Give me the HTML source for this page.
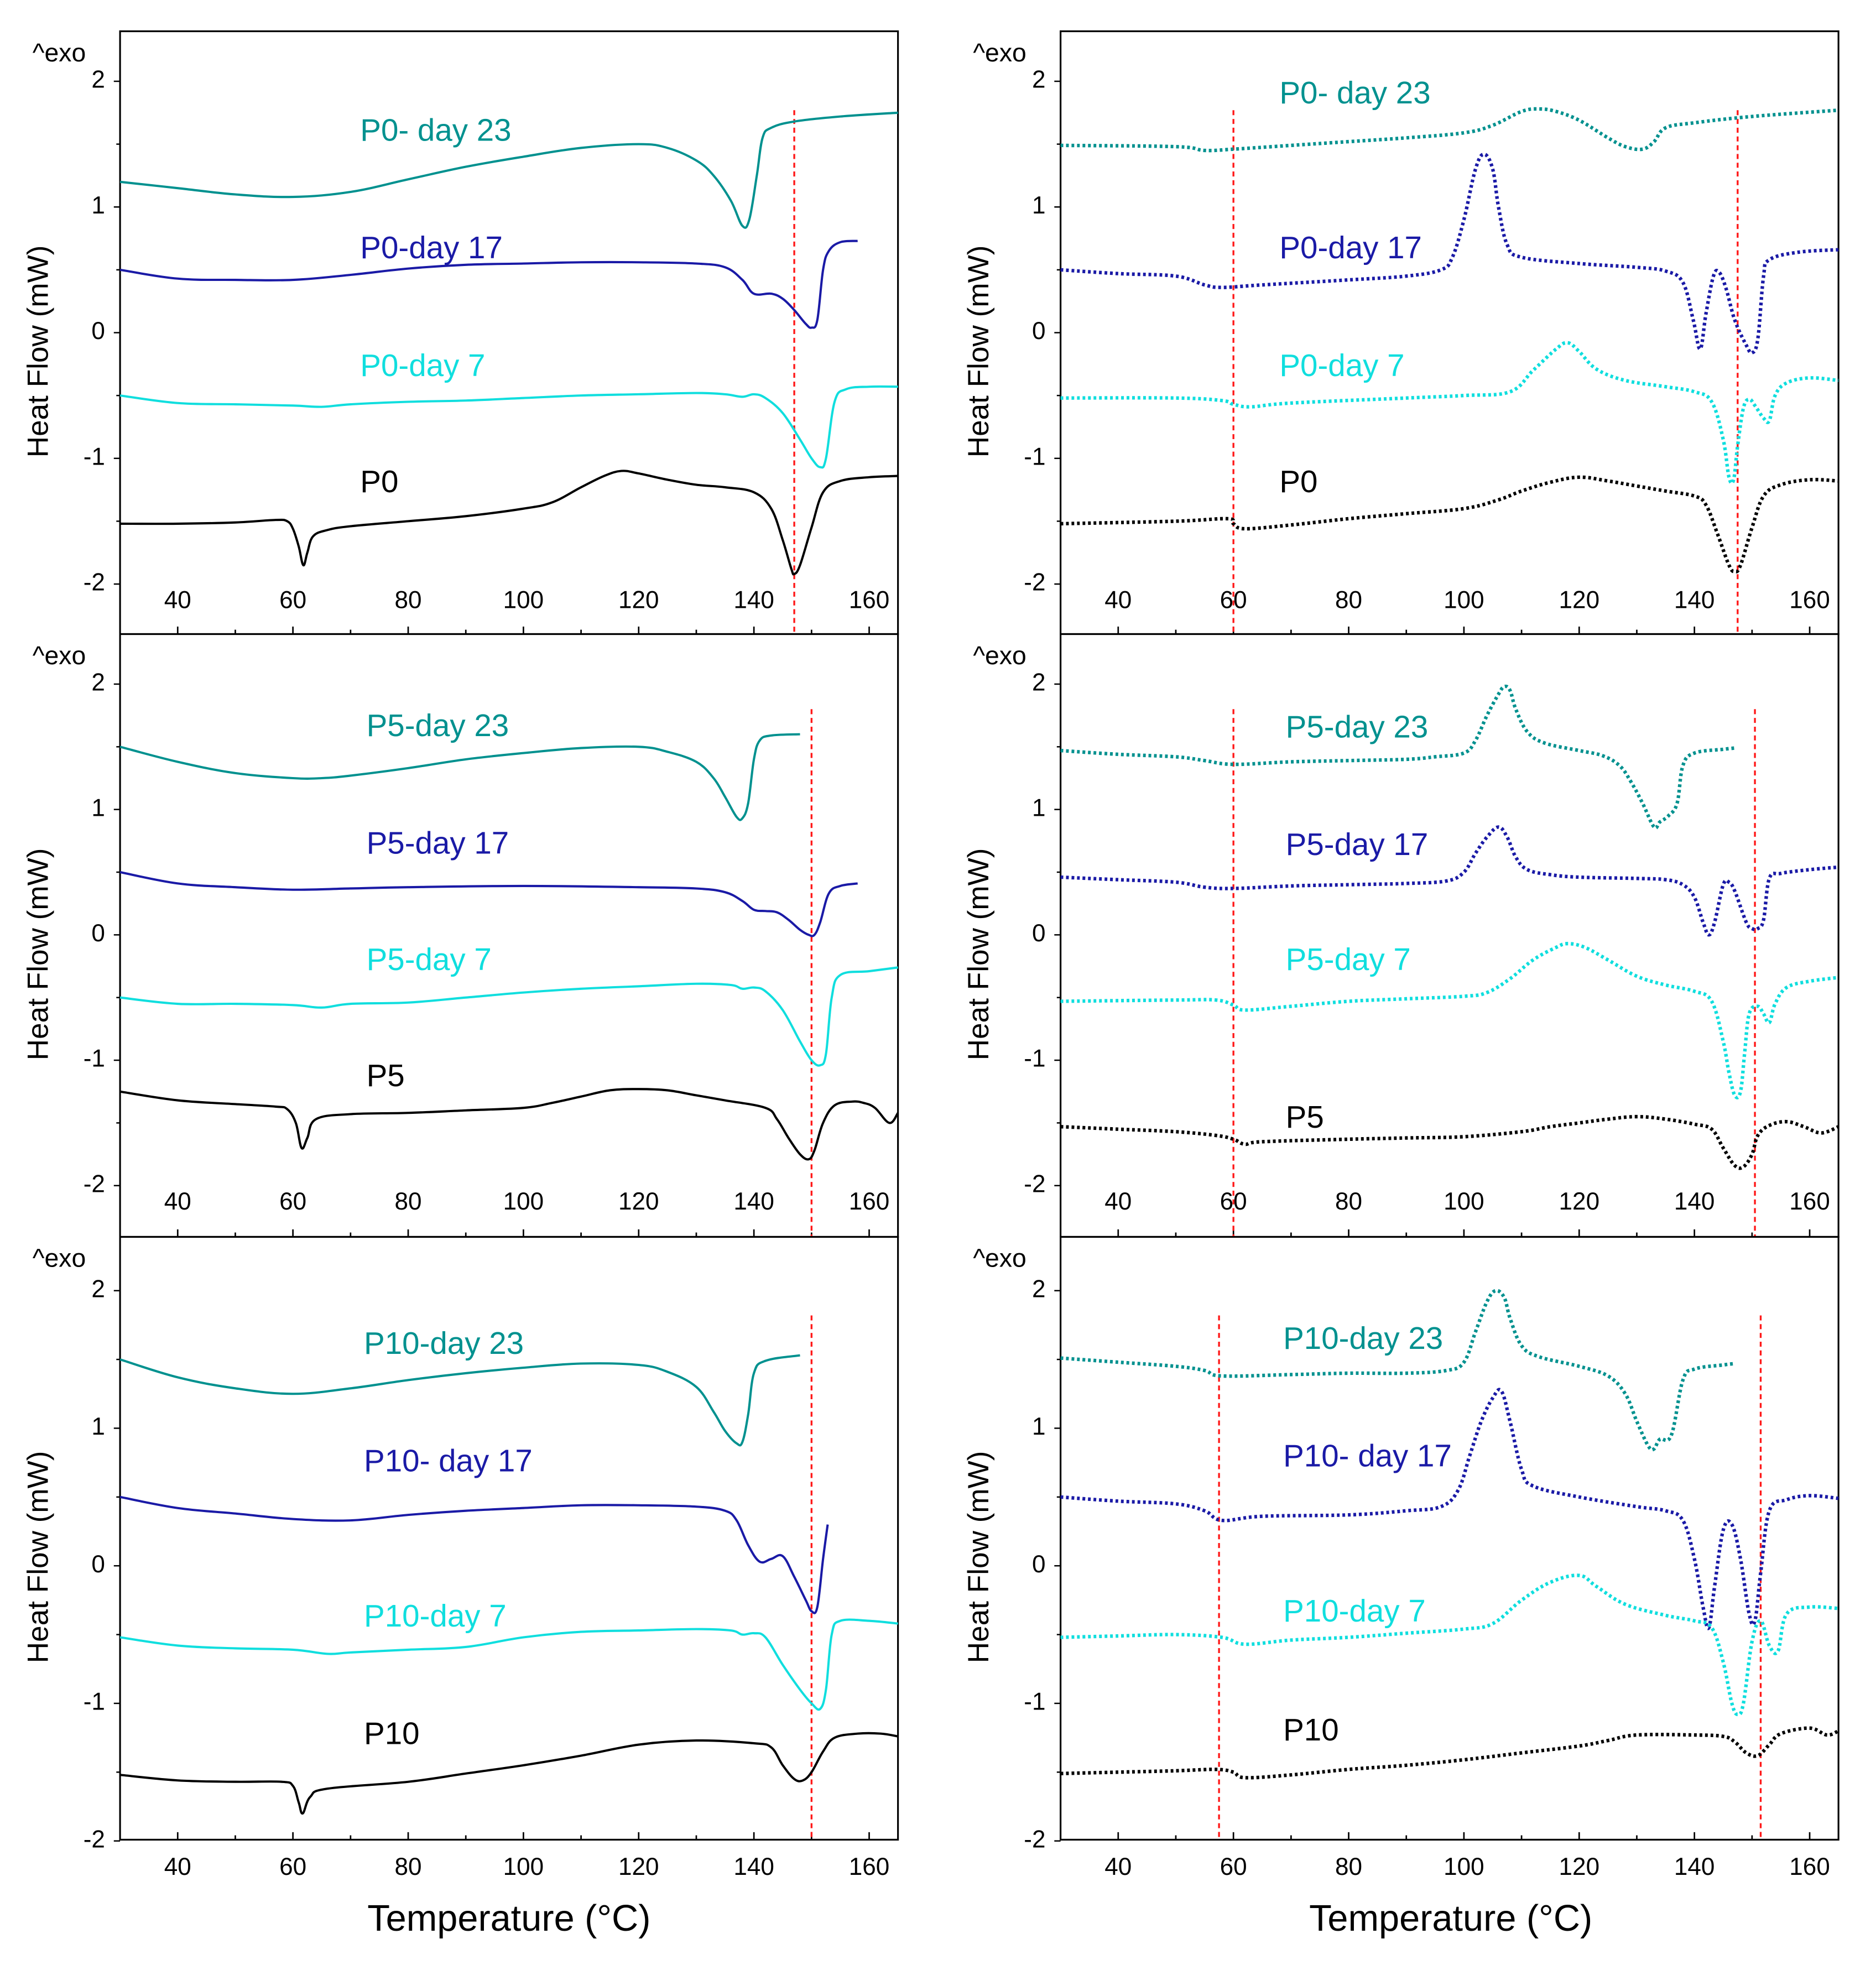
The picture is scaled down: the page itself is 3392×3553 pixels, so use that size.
<!DOCTYPE html>
<html><head><meta charset="utf-8"><style>
html,body{margin:0;padding:0;background:#fff}
svg{display:block}
text{font-family:"Liberation Sans",Arial,sans-serif}
</style></head><body>
<svg id="fig" xmlns="http://www.w3.org/2000/svg" width="3392" height="3553" viewBox="0 0 1500 1571.2"></svg>
<script>
// ===== Data (Temperature °C, Heat Flow mW) =====
const xTicks = [40,60,80,100,120,140,160];
const yTicks = [-2,-1,0,1,2];

// Row 1 left (solid)
const P0d23 = [[30,1.20],[40,1.15],[50,1.10],[60,1.08],[70,1.12],[80,1.22],[90,1.32],[100,1.40],[110,1.47],[120,1.50],[125,1.47],[130,1.37],[133,1.25],[136,1.05],[138,0.85],[139.2,0.90],[140.5,1.25],[141.5,1.55],[143,1.63],[147,1.68],[155,1.72],[165,1.75]];
const P0d17 = [[30,0.50],[40,0.43],[50,0.42],[60,0.42],[70,0.46],[80,0.51],[90,0.54],[100,0.55],[110,0.56],[120,0.56],[130,0.55],[135,0.52],[138,0.42],[140,0.31],[143,0.31],[145,0.27],[147,0.18],[149,0.07],[150,0.04],[151,0.10],[152,0.50],[153,0.65],[155,0.72],[158,0.73]];
const P0d7 = [[30,-0.50],[40,-0.56],[50,-0.57],[60,-0.58],[65,-0.59],[70,-0.57],[80,-0.55],[90,-0.54],[100,-0.52],[110,-0.50],[120,-0.49],[130,-0.48],[135,-0.49],[138,-0.51],[140,-0.49],[142,-0.52],[145,-0.64],[148,-0.85],[150,-1.00],[151.5,-1.07],[152.5,-1.00],[154,-0.55],[156,-0.45],[160,-0.43],[165,-0.43]];
const P0 = [[30,-1.52],[40,-1.52],[50,-1.51],[57,-1.49],[59,-1.50],[60,-1.56],[61,-1.70],[61.8,-1.85],[62.5,-1.75],[63.5,-1.62],[66,-1.57],[70,-1.54],[80,-1.50],[90,-1.46],[100,-1.40],[105,-1.35],[110,-1.23],[114,-1.14],[117,-1.10],[120,-1.12],[125,-1.17],[130,-1.21],[135,-1.23],[140,-1.27],[143,-1.40],[145,-1.65],[146.5,-1.88],[147,-1.92],[148,-1.85],[150,-1.55],[152,-1.27],[155,-1.18],[160,-1.15],[165,-1.14]];
// Row 1 right (dotted)
const P0d23b = [[30,1.49],[50,1.48],[55,1.45],[60,1.46],[70,1.49],[80,1.52],[90,1.55],[100,1.59],[105,1.65],[110,1.76],[113,1.78],[116,1.76],[120,1.69],[125,1.55],[128,1.48],[131,1.46],[133,1.52],[135,1.63],[140,1.67],[150,1.72],[165,1.77]];
const P0d17b = [[30,0.50],[40,0.47],[50,0.45],[55,0.38],[58,0.36],[65,0.38],[80,0.42],[90,0.45],[96,0.50],[98,0.60],[100,0.90],[102,1.30],[103.5,1.42],[105,1.30],[106,1.00],[107.5,0.70],[110,0.60],[120,0.55],[130,0.52],[135,0.49],[138,0.40],[139.8,0.10],[141,-0.13],[142,0.15],[143.3,0.45],[144.3,0.48],[145.5,0.35],[147,0.10],[149,-0.10],[150,-0.16],[151,-0.05],[152,0.45],[153,0.58],[158,0.64],[165,0.66]];
const P0d7b = [[30,-0.52],[50,-0.52],[58,-0.54],[60,-0.57],[63,-0.59],[70,-0.56],[90,-0.52],[100,-0.50],[108,-0.47],[112,-0.30],[116,-0.13],[118,-0.08],[120,-0.15],[123,-0.29],[128,-0.38],[135,-0.43],[140,-0.47],[143,-0.55],[145,-0.85],[146,-1.15],[146.8,-1.17],[147.5,-0.90],[148.5,-0.60],[149.5,-0.53],[150.5,-0.58],[152,-0.68],[153,-0.70],[154,-0.50],[156,-0.40],[160,-0.36],[165,-0.38]];
const P0b = [[30,-1.52],[50,-1.50],[59,-1.48],[60,-1.52],[62,-1.56],[70,-1.53],[80,-1.48],[90,-1.44],[100,-1.40],[106,-1.33],[110,-1.26],[115,-1.19],[120,-1.15],[125,-1.18],[130,-1.22],[135,-1.26],[140,-1.30],[142,-1.37],[144,-1.60],[146,-1.85],[147,-1.90],[148,-1.85],[150,-1.55],[152,-1.30],[155,-1.21],[160,-1.17],[165,-1.18]];
// Row 2 left
const P5d23 = [[30,1.50],[40,1.38],[50,1.29],[60,1.25],[65,1.25],[70,1.27],[80,1.33],[90,1.40],[100,1.45],[110,1.49],[120,1.50],[125,1.46],[130,1.38],[133,1.25],[135,1.10],[137,0.94],[138,0.93],[139,1.05],[140,1.40],[141,1.55],[143,1.59],[148,1.60]];
const P5d17 = [[30,0.50],[40,0.41],[50,0.38],[60,0.36],[70,0.37],[80,0.38],[100,0.39],[120,0.38],[130,0.37],[135,0.34],[138,0.27],[140,0.20],[142,0.19],[144,0.18],[146,0.12],[148,0.04],[149.5,0.00],[150.5,0.00],[151.5,0.10],[153,0.33],[155,0.39],[158,0.41]];
const P5d7 = [[30,-0.50],[40,-0.55],[50,-0.55],[60,-0.56],[65,-0.58],[70,-0.55],[80,-0.54],[90,-0.50],[100,-0.46],[110,-0.43],[120,-0.41],[130,-0.39],[136,-0.40],[138,-0.43],[140,-0.42],[142,-0.45],[145,-0.60],[148,-0.85],[150,-1.00],[151.5,-1.04],[152.5,-0.95],[153.5,-0.50],[155,-0.32],[160,-0.29],[165,-0.26]];
const P5 = [[30,-1.25],[40,-1.32],[50,-1.35],[57,-1.37],[59,-1.39],[60.5,-1.50],[61.5,-1.70],[62.5,-1.62],[64,-1.47],[70,-1.43],[80,-1.42],[90,-1.40],[100,-1.38],[105,-1.34],[110,-1.29],[115,-1.24],[120,-1.23],[125,-1.24],[130,-1.28],[135,-1.32],[142,-1.38],[144,-1.47],[146,-1.62],[148,-1.75],[149.5,-1.79],[150.5,-1.72],[152,-1.50],[154,-1.36],[157,-1.33],[159,-1.34],[161,-1.38],[163.5,-1.50],[165,-1.42]];
// Row 2 right
const P5d23b = [[30,1.47],[40,1.44],[50,1.42],[55,1.39],[60,1.36],[70,1.38],[80,1.39],[90,1.40],[95,1.42],[100,1.45],[102,1.55],[104,1.75],[106,1.92],[107,1.98],[108,1.95],[109,1.80],[111,1.62],[114,1.53],[120,1.47],[124,1.43],[127,1.35],[129,1.22],[131,1.05],[133,0.86],[134,0.90],[135.5,0.95],[137,1.05],[138,1.35],[140,1.45],[145,1.48],[147,1.49]];
const P5d17b = [[30,0.46],[40,0.44],[50,0.42],[55,0.38],[60,0.37],[70,0.39],[80,0.40],[90,0.41],[97,0.43],[100,0.50],[102,0.65],[104,0.78],[106,0.86],[107.5,0.78],[109,0.62],[111,0.52],[115,0.48],[120,0.46],[130,0.45],[135,0.44],[138,0.40],[140,0.30],[141.5,0.10],[142.5,0.00],[143.5,0.10],[145,0.40],[146,0.42],[147,0.35],[149,0.10],[150,0.05],[151,0.05],[152,0.12],[153,0.45],[155,0.49],[160,0.52],[165,0.54]];
const P5d7b = [[30,-0.53],[50,-0.52],[57,-0.52],[60,-0.56],[62,-0.60],[70,-0.57],[80,-0.53],[90,-0.51],[100,-0.49],[104,-0.46],[108,-0.35],[112,-0.20],[116,-0.10],[118,-0.07],[121,-0.10],[125,-0.20],[130,-0.33],[135,-0.40],[140,-0.45],[143,-0.53],[145,-0.85],[146,-1.10],[147,-1.28],[148,-1.25],[148.7,-0.95],[149.5,-0.63],[151,-0.57],[152,-0.63],[153,-0.70],[154,-0.55],[156,-0.42],[160,-0.37],[165,-0.34]];
const P5b = [[30,-1.53],[40,-1.55],[50,-1.57],[57,-1.60],[60,-1.63],[62,-1.67],[65,-1.65],[80,-1.63],[90,-1.62],[100,-1.61],[110,-1.57],[115,-1.53],[120,-1.50],[125,-1.47],[130,-1.45],[135,-1.47],[140,-1.51],[143,-1.55],[145,-1.70],[147,-1.84],[148.5,-1.85],[150,-1.75],[151,-1.60],[153,-1.52],[156,-1.49],[159,-1.53],[162,-1.58],[165,-1.53]];
// Row 3 left
const P10d23 = [[30,1.50],[40,1.37],[50,1.29],[60,1.25],[70,1.29],[80,1.35],[90,1.40],[100,1.44],[110,1.47],[120,1.46],[125,1.41],[130,1.30],[133,1.12],[135,0.98],[137,0.89],[138,0.90],[139,1.10],[140,1.40],[142,1.49],[148,1.53]];
const P10d17 = [[30,0.50],[40,0.42],[50,0.38],[60,0.34],[70,0.33],[80,0.37],[90,0.40],[100,0.42],[110,0.44],[120,0.44],[130,0.43],[135,0.40],[137,0.33],[139,0.15],[141,0.03],[143,0.05],[145,0.07],[147,-0.08],[149,-0.25],[150,-0.33],[151,-0.30],[152,0.05],[152.8,0.30]];
const P10d7 = [[30,-0.52],[40,-0.58],[50,-0.60],[60,-0.61],[66,-0.64],[70,-0.63],[80,-0.61],[90,-0.59],[100,-0.52],[110,-0.48],[120,-0.47],[130,-0.46],[136,-0.47],[138,-0.50],[140,-0.49],[142,-0.52],[145,-0.72],[148,-0.90],[150,-1.00],[151.5,-1.04],[152.5,-0.90],[153.5,-0.50],[155,-0.40],[160,-0.40],[165,-0.42]];
const P10 = [[30,-1.52],[40,-1.56],[50,-1.57],[58,-1.57],[60,-1.60],[61,-1.72],[61.7,-1.80],[63,-1.68],[66,-1.62],[80,-1.57],[90,-1.51],[100,-1.45],[110,-1.38],[120,-1.30],[130,-1.27],[140,-1.29],[143,-1.32],[145,-1.45],[147,-1.55],[148.5,-1.56],[150,-1.50],[152,-1.35],[154,-1.25],[158,-1.22],[162,-1.22],[165,-1.24]];
// Row 3 right
const P10d23b = [[30,1.51],[40,1.48],[50,1.45],[55,1.42],[58,1.38],[70,1.39],[80,1.40],[90,1.40],[97,1.42],[100,1.48],[102,1.70],[104,1.92],[105.5,2.00],[107,1.95],[108,1.80],[110,1.60],[113,1.52],[120,1.45],[125,1.38],[128,1.25],[130,1.05],[132,0.87],[133,0.85],[134,0.92],[136,0.95],[138,1.35],[140,1.43],[145,1.46],[147,1.47]];
const P10d17b = [[30,0.50],[40,0.47],[50,0.45],[55,0.40],[58,0.33],[65,0.36],[80,0.37],[90,0.40],[96,0.43],[99,0.55],[101,0.80],[103,1.05],[105,1.22],[106.5,1.27],[108,1.05],[110,0.70],[112,0.58],[120,0.50],[130,0.43],[135,0.40],[138,0.33],[140,0.05],[141.5,-0.30],[142.5,-0.45],[143.5,-0.15],[145,0.26],[146.5,0.30],[148,0.05],[149.5,-0.35],[150.5,-0.40],[151.5,-0.05],[153,0.40],[156,0.48],[160,0.51],[165,0.49]];
const P10d7b = [[30,-0.52],[40,-0.51],[50,-0.50],[58,-0.52],[62,-0.57],[70,-0.54],[80,-0.52],[90,-0.49],[100,-0.46],[105,-0.42],[110,-0.25],[115,-0.12],[120,-0.07],[123,-0.15],[128,-0.28],[135,-0.36],[140,-0.40],[143,-0.45],[145,-0.70],[146.5,-1.00],[147.5,-1.08],[148.5,-1.00],[150,-0.55],[151.5,-0.40],[153,-0.58],[154.5,-0.62],[156,-0.35],[160,-0.30],[165,-0.31]];
const P10b = [[30,-1.51],[40,-1.50],[50,-1.49],[57,-1.48],[60,-1.50],[62,-1.54],[70,-1.52],[80,-1.48],[90,-1.45],[100,-1.41],[110,-1.36],[120,-1.31],[125,-1.27],[130,-1.23],[140,-1.23],[145,-1.24],[147,-1.28],[149,-1.36],[151,-1.38],[153,-1.30],[155,-1.22],[160,-1.18],[163,-1.23],[165,-1.20]];

// Reference (red dashed) temperatures per panel
const refLines = [[147],[60,147.5],[150],[60,150.5],[150],[57.5,151.5]];
const panelLabels = [
  ["P0- day 23","P0-day 17","P0-day 7","P0"],["P0- day 23","P0-day 17","P0-day 7","P0"],
  ["P5-day 23","P5-day 17","P5-day 7","P5"],["P5-day 23","P5-day 17","P5-day 7","P5"],
  ["P10-day 23","P10- day 17","P10-day 7","P10"],["P10-day 23","P10- day 17","P10-day 7","P10"]];
const panelSeries = [[P0d23,P0d17,P0d7,P0],[P0d23b,P0d17b,P0d7b,P0b],[P5d23,P5d17,P5d7,P5],[P5d23b,P5d17b,P5d7b,P5b],[P10d23,P10d17,P10d7,P10],[P10d23b,P10d17b,P10d7b,P10b]];

// ===== Layout =====
const colors = ["#00918f","#1a1aa6","#10dede","#000000"];
const seriesNames = ["day23","day17","day7","base"];
const cols = [{x0:96,x1:718},{x0:848,x1:1470}];
const rows = [{top:25,bot:507,zero:266,unit:100.5,lblY:481,labY:[106,200,294,387],labYR:[76,200,294,387],refTop:1.77},
              {top:507,bot:989,zero:747.5,unit:100.25,lblY:962,labY:[582,676,769,862],labYR:[583,677,769,895],refTop:1.8},
              {top:989,bot:1471,zero:1252,unit:110,lblY:1494,labY:[1076,1170,1294,1388],labYR:[1072,1166,1290,1385],refTop:1.82}];
const labX = [[288,1023],[293,1028],[291,1026]];

const svg = document.getElementById('fig');
const NS = "http://www.w3.org/2000/svg";
function mk(tag, attrs, parent){ const e=document.createElementNS(NS,tag); for(const k in attrs) e.setAttribute(k,attrs[k]); (parent||svg).appendChild(e); return e; }
function smoothPath(pts){
  let d="M"+pts[0][0].toFixed(2)+","+pts[0][1].toFixed(2);
  for(let i=0;i<pts.length-1;i++){
    const p0=pts[Math.max(0,i-1)],p1=pts[i],p2=pts[i+1],p3=pts[Math.min(pts.length-1,i+2)];
    const t=0.18;
    const c1=[p1[0]+(p2[0]-p0[0])*t,p1[1]+(p2[1]-p0[1])*t];
    const c2=[p2[0]-(p3[0]-p1[0])*t,p2[1]-(p3[1]-p1[1])*t];
    d+=" C"+c1[0].toFixed(2)+","+c1[1].toFixed(2)+" "+c2[0].toFixed(2)+","+c2[1].toFixed(2)+" "+p2[0].toFixed(2)+","+p2[1].toFixed(2);
  }
  return d;
}

for(let r=0;r<3;r++){
  for(let c=0;c<2;c++){
    const idx=r*2+c, R=rows[r], C=cols[c];
    const X=t=>C.x0+(t-30)*(C.x1-C.x0)/135;
    const Y=v=>R.zero-v*R.unit;
    const g=mk('g',{});
    
    
    const fr=mk('rect',{x:C.x0,y:R.top,width:C.x1-C.x0,height:R.bot-R.top,fill:'none',stroke:'#000','stroke-width':1.4},g);
    
    
    for(let t=40;t<=160;t+=10){
      const maj=(t%20===0);
      const tk=mk('line',{x1:X(t),x2:X(t),y1:R.bot,y2:R.bot-(maj?6:3.5),stroke:'#000','stroke-width':1.2},g);
      
      
    }
    xTicks.forEach(t=>{
      const tx=mk('text',{x:X(t),y:R.lblY,'font-size':19.5,'text-anchor':'middle','dominant-baseline':'middle',fill:'#000'},g);
      tx.textContent=t;
      
      
    });
    for(let v=-2;v<=2.001;v+=0.5){
      const maj=Math.abs(v-Math.round(v))<0.01;
      const tk=mk('line',{x1:C.x0,x2:C.x0-(maj?5:3),y1:Y(v),y2:Y(v),stroke:'#000','stroke-width':1.1},g);
      
      
    }
    yTicks.forEach(v=>{
      const tx=mk('text',{x:C.x0-12,y:Y(v),'font-size':19.5,'text-anchor':'end','dominant-baseline':'middle',fill:'#000'},g);
      tx.textContent=v;
      
      
    });
    const exo=mk('text',{x:C.x0-70,y:R.top+24,'font-size':20.5,fill:'#000'},g);
    exo.textContent='^exo';
    
    
    const yl=mk('text',{x:0,y:0,'font-size':23.5,'text-anchor':'middle','dominant-baseline':'middle',fill:'#000',transform:`translate(${C.x0-64},${(R.top+R.bot)/2+15}) rotate(-90)`},g);
    yl.textContent='Heat Flow (mW)';
    
    
    refLines[idx].forEach(t=>{
      const l=mk('line',{x1:X(t),x2:X(t),y1:Y(R.refTop),y2:R.bot,stroke:'#ff1a1a','stroke-width':1.5,'stroke-dasharray':'4 3'},g);
      
      
    });
    panelSeries[idx].forEach((s,k)=>{
      const pts=s.map(p=>[X(p[0]),Y(p[1])]);
      const attrs={d:smoothPath(pts),fill:'none',stroke:colors[k],'stroke-width':c===0?1.8:2.8};
      if(c===1){attrs['stroke-dasharray']='2.2 2.2';}
      const p=mk('path',attrs,g);
      
      
      const ly=(c===0?R.labY:R.labYR)[k];
      const tx=mk('text',{x:labX[r][c],y:ly,'font-size':25,'dominant-baseline':'middle',fill:colors[k]},g);
      tx.textContent=panelLabels[idx][k];
      
      
    });
  }
}
[407,1160].forEach(cx=>{
  const t=mk('text',{x:cx,y:1536,'font-size':29.5,'text-anchor':'middle','dominant-baseline':'middle',fill:'#000'});
  t.textContent='Temperature (°C)';
  
  
});
</script>
</body></html>
